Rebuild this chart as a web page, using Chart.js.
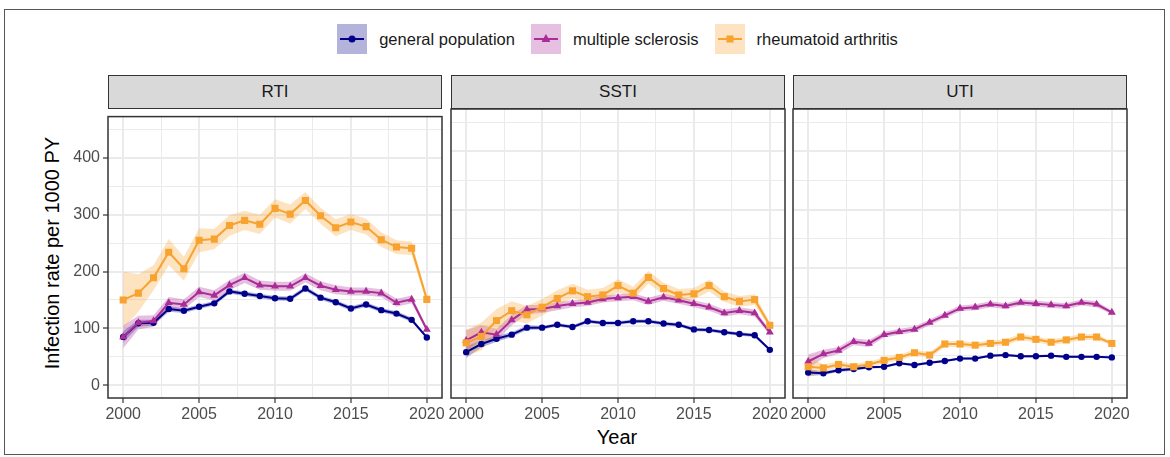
<!DOCTYPE html>
<html>
<head>
<meta charset="utf-8">
<script src="https://cdn.jsdelivr.net/npm/chart.js@4.4.1/dist/chart.umd.min.js"></script>
<style>
  body { margin: 0; width: 1170px; height: 457px; background: #fff; position: relative; overflow: hidden;
         font-family: "Liberation Sans", Arial, sans-serif; }
  .frame { position: absolute; left: 4px; top: 9px; width: 1161px; height: 446px; border: 1px solid #555; box-sizing: border-box; }
  .strip { position: absolute; top: 75px; height: 34px; background: #d9d9d9; border: 1.5px solid #333; box-sizing: border-box;
           text-align: center; font-size: 17px; line-height: 31px; color: #1a1a1a; }
  canvas { position: absolute; }
  #legend { position: absolute; top: 24px; left: 0; width: 1235px; height: 30px; display: flex; justify-content: center; align-items: center; }
  .item { display: flex; align-items: center; margin: 0 8px; font-size: 16.5px; color: #1a1a1a; }
  .key { width: 30px; height: 30px; position: relative; margin-right: 12px; }
  .key .ln { position: absolute; left: 3px; right: 3px; top: 14px; height: 2px; }
  .key .mk { position: absolute; left: 50%; top: 50%; transform: translate(-50%, -50%); }
  .ytitle { position: absolute; left: 52px; top: 253px; transform: translate(-50%, -50%) rotate(-90deg); white-space: nowrap; font-size: 20px; color: #000; }
  .xtitle { position: absolute; left: 617px; top: 437px; transform: translate(-50%, -50%); font-size: 20px; color: #000; }
</style>
</head>
<body>
<div class="frame"></div>
<div id="legend"></div>
<div class="ytitle">Infection rate per 1000 PY</div>
<div class="xtitle">Year</div>
<script>
// years and axis ticks
const years = [2000, 2001, 2002, 2003, 2004, 2005, 2006, 2007, 2008, 2009, 2010,
               2011, 2012, 2013, 2014, 2015, 2016, 2017, 2018, 2019, 2020];
const xTicks = [2000, 2002.5, 2005, 2007.5, 2010, 2012.5, 2015, 2017.5, 2020];
const xLabels = [2000, 2005, 2010, 2015, 2020];
const yTicks = [0, 50, 100, 150, 200, 250, 300, 350, 400, 450];
const yLabels = [0, 100, 200, 300, 400];

const panelNames = ['RTI', 'SSTI', 'UTI'];
const seriesNames = ['general population', 'multiple sclerosis', 'rheumatoid arthritis'];

// RTI
const rtiGP = [85, 109, 110, 134, 131, 138, 144, 165, 161, 157, 153, 152, 170, 154, 146, 135, 142, 132, 126, 115, 84];
const rtiGPci = [10, 6, 5, 5, 4, 4, 4, 4, 4, 4, 4, 4, 4, 4, 4, 4, 4, 4, 4, 4, 2];
const rtiMS = [85, 110, 113, 145, 142, 164, 158, 176, 189, 176, 174, 174, 189, 175, 168, 165, 165, 162, 145, 151, 98];
const rtiMSci = [20, 12, 10, 10, 9, 9, 9, 9, 9, 8, 8, 8, 8, 8, 8, 7, 7, 7, 7, 7, 4];
const rtiRA = [150, 162, 189, 234, 205, 255, 257, 281, 290, 283, 311, 301, 325, 298, 277, 287, 279, 256, 243, 241, 151];
const rtiRAci = [50, 33, 22, 23, 21, 21, 18, 18, 17, 17, 16, 17, 15, 14, 15, 14, 14, 13, 12, 12, 6];

// SSTI
const sstiGP = [56, 70, 79, 86, 98, 98, 103, 99, 109, 106, 106, 109, 109, 105, 103, 95, 94, 90, 87, 85, 60];
const sstiGPci = [10, 6, 5, 4, 4, 3, 3, 3, 3, 3, 3, 3, 3, 3, 3, 3, 3, 3, 3, 3, 2];
const sstiMS = [76, 90, 86, 111, 129, 130, 135, 139, 141, 147, 149, 151, 143, 150, 145, 139, 133, 123, 127, 123, 90];
const sstiMSci = [18, 12, 10, 9, 8, 7, 7, 6, 6, 6, 6, 6, 6, 6, 6, 6, 6, 6, 6, 6, 4];
const sstiRA = [72, 83, 110, 127, 120, 133, 148, 161, 151, 154, 170, 157, 184, 165, 154, 156, 170, 151, 143, 146, 102];
const sstiRAci = [22, 24, 20, 16, 15, 14, 14, 12, 12, 12, 11, 11, 11, 10, 10, 10, 10, 9, 9, 9, 5];

// UTI
const utiGP = [21, 20, 25, 27, 30, 31, 37, 34, 38, 41, 45, 45, 50, 51, 49, 49, 50, 48, 48, 48, 47];
const utiGPci = [6, 3, 3, 3, 2, 2, 2, 2, 2, 2, 2, 2, 2, 2, 2, 2, 2, 2, 2, 2, 1];
const utiMS = [40, 53, 59, 74, 71, 86, 91, 95, 107, 119, 131, 133, 138, 135, 141, 139, 137, 135, 141, 138, 124];
const utiMSci = [12, 7, 6, 6, 6, 5, 5, 5, 5, 5, 5, 5, 5, 5, 5, 5, 5, 5, 5, 5, 3];
const utiRA = [31, 29, 35, 31, 35, 42, 47, 55, 51, 70, 70, 68, 71, 73, 82, 78, 73, 77, 82, 82, 71];
const utiRAci = [18, 6, 5, 5, 5, 5, 5, 5, 5, 5, 5, 5, 5, 5, 5, 5, 5, 5, 5, 5, 3];

const panelValues = [[rtiGP, rtiMS, rtiRA], [sstiGP, sstiMS, sstiRA], [utiGP, utiMS, utiRA]];
const panelCis = [[rtiGPci, rtiMSci, rtiRAci], [sstiGPci, sstiMSci, sstiRAci], [utiGPci, utiMSci, utiRAci]];

// styles
const lineColors = ['#00008b', '#aa2c96', '#f8a22f'];
const bandColors = ['rgba(0,0,139,0.3)', 'rgba(170,44,150,0.3)', 'rgba(248,162,47,0.3)'];
const keyColors = ['#b3b3dc', '#e6c0e0', '#fde3c1'];
const pointStyles = ['circle', 'triangle', 'rect'];
const pointSizes = [3.2, 4.6, 5];

// layout
const panelLeft = [108, 451, 793];
const panelW = 334, panelTop = 108, panelH = 290;
const padL = 6, padR = 22, padT = 4, xAxisH = 30, yAxisW = 48;

Chart.defaults.font.family = '"Liberation Sans", Arial, sans-serif';

// legend
const legend = document.getElementById('legend');
seriesNames.forEach((name, s) => {
    const item = document.createElement('div');
    item.className = 'item';
    const key = document.createElement('div');
    key.className = 'key';
    key.style.background = keyColors[s];
    const ln = document.createElement('div');
    ln.className = 'ln';
    ln.style.background = lineColors[s];
    const mk = document.createElement('div');
    mk.className = 'mk';
    mk.style.background = lineColors[s];
    if (s === 0) { mk.style.width = '7px'; mk.style.height = '7px'; mk.style.borderRadius = '50%'; }
    if (s === 1) { mk.style.width = '9px'; mk.style.height = '8px'; mk.style.clipPath = 'polygon(50% 0, 100% 100%, 0 100%)'; mk.style.marginTop = '-1px'; }
    if (s === 2) { mk.style.width = '7px'; mk.style.height = '7px'; }
    key.appendChild(ln);
    key.appendChild(mk);
    const txt = document.createElement('span');
    txt.textContent = name;
    item.appendChild(key);
    item.appendChild(txt);
    legend.appendChild(item);
});

// panel border drawn over the plot area
const panelBorder = {
    id: 'panelBorder',
    afterDraw(chart) {
        const a = chart.chartArea;
        const c = chart.ctx;
        c.save();
        c.strokeStyle = '#333333';
        c.lineWidth = 1.5;
        c.strokeRect(a.left, a.top, a.right - a.left, a.bottom - a.top);
        c.restore();
    }
};

function makeDatasets(vals, cis) {
    const ds = [];
    // ribbons first
    vals.forEach((v, s) => {
        ds.push({ data: v.map((y, i) => y - cis[s][i]), borderColor: 'transparent', borderWidth: 0,
                  pointRadius: 0, fill: false, order: 6 - s });
        ds.push({ data: v.map((y, i) => y + cis[s][i]), borderColor: 'transparent', borderWidth: 0,
                  pointRadius: 0, fill: '-1', backgroundColor: bandColors[s], order: 6 - s });
    });
    // lines with points
    vals.forEach((v, s) => {
        ds.push({ data: v, borderColor: lineColors[s], backgroundColor: lineColors[s], borderWidth: 2,
                  pointStyle: pointStyles[s], pointRadius: pointSizes[s], pointBorderWidth: 0,
                  fill: false, order: 3 - s });
    });
    return ds;
}

panelNames.forEach((name, p) => {
    const strip = document.createElement('div');
    strip.className = 'strip';
    strip.style.left = panelLeft[p] + 'px';
    strip.style.width = panelW + 'px';
    strip.textContent = name;
    document.body.appendChild(strip);

    const yW = p === 0 ? yAxisW : 0;
    const canvas = document.createElement('canvas');
    canvas.width = padL + yW + panelW + padR;
    canvas.height = padT + panelH + xAxisH;
    canvas.style.left = (panelLeft[p] - padL - yW) + 'px';
    canvas.style.top = (panelTop - padT) + 'px';
    document.body.appendChild(canvas);

    new Chart(canvas.getContext('2d'), {
        type: 'line',
        data: { labels: years, datasets: makeDatasets(panelValues[p], panelCis[p]) },
        options: {
            responsive: false,
            animation: false,
            events: [],
            layout: { padding: { left: padL, right: padR, top: padT, bottom: 0 } },
            plugins: { legend: { display: false }, tooltip: { enabled: false } },
            scales: {
                x: {
                    type: 'linear', min: 1999, max: 2021,
                    afterBuildTicks: a => { a.ticks = xTicks.map(v => ({ value: v })); },
                    afterFit: a => { a.height = xAxisH; },
                    border: { display: false },
                    grid: {
                        color: '#ebebeb',
                        lineWidth: c => xLabels.includes(c.tick.value) ? 2 : 1,
                        tickLength: 5,
                        tickWidth: 1.2,
                        tickColor: c => xLabels.includes(c.tick.value) ? '#333333' : 'rgba(0,0,0,0)'
                    },
                    ticks: {
                        autoSkip: false, maxRotation: 0, padding: 2, color: '#4d4d4d',
                        font: { size: 16 },
                        callback: v => xLabels.includes(v) ? String(v) : ''
                    }
                },
                y: {
                    min: -22.5, max: 472.5,
                    afterBuildTicks: a => { a.ticks = yTicks.map(v => ({ value: v })); },
                    afterFit: a => { a.width = yW; },
                    border: { display: false },
                    grid: {
                        color: '#ebebeb',
                        lineWidth: c => yLabels.includes(c.tick.value) ? 2 : 1,
                        drawTicks: p === 0,
                        tickLength: 5,
                        tickWidth: 1.2,
                        tickColor: c => yLabels.includes(c.tick.value) ? '#333333' : 'rgba(0,0,0,0)'
                    },
                    ticks: {
                        display: p === 0, padding: 3, color: '#4d4d4d',
                        font: { size: 16 },
                        callback: v => yLabels.includes(v) ? String(v) : ''
                    }
                }
            }
        },
        plugins: [panelBorder]
    });
});
</script>
</body>
</html>
